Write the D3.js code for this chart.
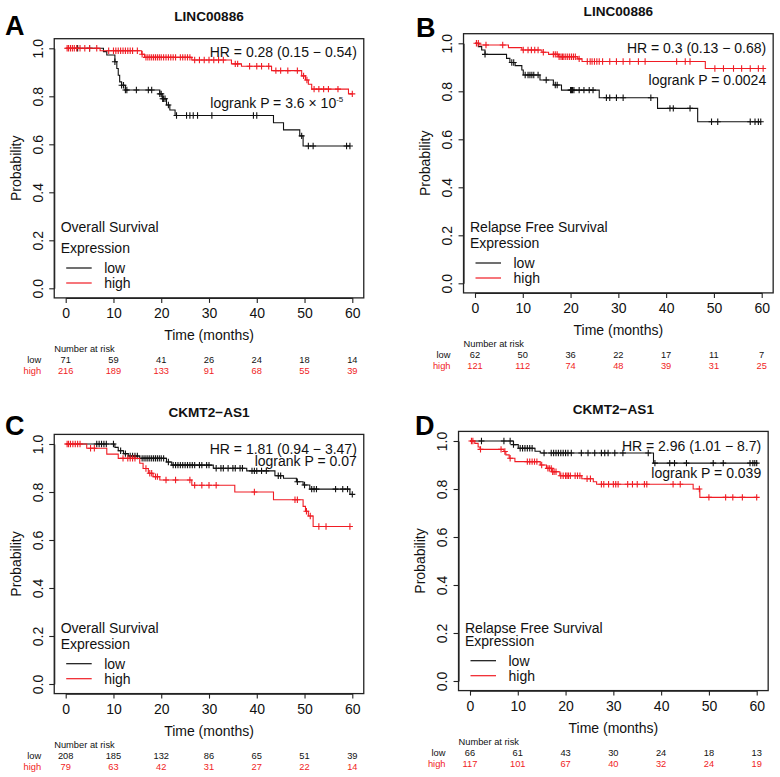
<!DOCTYPE html>
<html><head><meta charset="utf-8">
<script src="https://cdn.jsdelivr.net/npm/d3@7"></script>
<style>
html,body{margin:0;padding:0;background:#fff;}
svg{display:block;font-family:"Liberation Sans",Arial,sans-serif;}
</style></head>
<body>
<svg id="chart" width="780" height="777"></svg>
<script>
// ---------- data ----------
const riskTimes = [0, 10, 20, 30, 40, 50, 60];
const xTicks = [0, 10, 20, 30, 40, 50, 60];
const yTicks = [0, 0.2, 0.4, 0.6, 0.8, 1.0];
const groupNames = ["low", "high"];

// Panel A: LINC00886, Overall Survival
const aLowTimes = [0, 7.9, 8.6, 10.3, 10.7, 11.0, 11.3, 11.7, 12.5, 19.7, 20.2, 21.1, 21.8, 22.9, 43.5, 45.6, 49.0, 49.7];
const aLowSurv  = [1, 0.986, 0.972, 0.944, 0.916, 0.888, 0.86, 0.846, 0.826, 0.81, 0.79, 0.764, 0.743, 0.72, 0.69, 0.66, 0.635, 0.593];
const aLowCens  = [2.5, 5, 10.3, 11.7, 12.1, 12.5, 12.8, 14.8, 17.3, 18, 19.7, 20.0, 20.3, 20.5, 20.8, 21.5, 23.2, 25.3, 26, 26.7, 27.6, 30.6, 39.3, 40, 49.4, 50.8, 51.8, 58.8, 59.5];
const aHighTimes = [0, 7.2, 15.9, 16.5, 26.4, 34.7, 36.8, 43.1, 49.4, 50.2, 50.8, 51.5, 59.2];
const aHighSurv  = [1, 0.99, 0.975, 0.962, 0.951, 0.935, 0.925, 0.907, 0.885, 0.868, 0.85, 0.83, 0.81];
const aHighCens  = [0.3, 0.6, 1.0, 1.4, 1.8, 2.3, 3.0, 4.0, 5.0, 6.5, 9, 10, 10.5, 11, 11.5, 12, 12.5, 13, 13.5, 14, 15, 16, 16.8, 17.2, 17.6, 18, 18.4, 18.8, 19.2, 19.6, 20, 20.5, 21, 21.5, 22, 22.5, 23, 24, 24.5, 25, 25.5, 26, 27, 28, 29, 30, 31, 32, 33, 35.5, 36, 38.5, 40, 41, 42.5, 44, 45, 46.5, 48.5, 49.8, 50.5, 52, 53, 54, 55, 57, 60];
const aLowRisk  = [71, 59, 41, 26, 24, 18, 14];
const aHighRisk = [216, 189, 133, 91, 68, 55, 39];

// Panel B: LINC00886, Relapse Free Survival
const bLowTimes = [0, 0.7, 1.4, 2.1, 6.6, 7.3, 8.4, 9.8, 10.1, 13.6, 16.4, 18.1, 26.0, 38.2, 46.6];
const bLowSurv  = [1, 0.986, 0.972, 0.954, 0.937, 0.92, 0.907, 0.889, 0.868, 0.847, 0.826, 0.805, 0.773, 0.729, 0.673];
const bLowCens  = [2.1, 7.7, 8.1, 10.5, 11.1, 11.5, 11.9, 12.3, 13.2, 14.9, 16.8, 17.2, 20.0, 20.2, 20.4, 20.7, 21.8, 22.8, 23.9, 24.7, 27.5, 28.2, 29.6, 31.0, 36.8, 40.8, 41.5, 45.0, 49.5, 50.8, 57.6, 58.6, 59.3, 59.8];
const bHighTimes = [0, 1.0, 7.0, 9.8, 14.0, 15.4, 17.5, 21.5, 22.4, 48.2];
const bHighSurv  = [1, 0.993, 0.982, 0.972, 0.963, 0.954, 0.944, 0.935, 0.924, 0.895];
const bHighCens  = [0.3, 0.7, 2.3, 5.8, 10.1, 11.1, 11.8, 12.5, 13.2, 14.3, 16.4, 16.8, 17.2, 17.6, 18.0, 18.3, 18.6, 19.0, 19.4, 19.8, 20.2, 20.6, 21.0, 21.8, 23.5, 24.1, 24.5, 25.0, 25.5, 26.0, 26.7, 28.2, 29.6, 31.0, 32.4, 34.2, 35.6, 42.2, 44.0, 45.0, 50.2, 52.0, 54.1, 55.8, 57.6, 59.3, 60.3];
const bLowRisk  = [62, 50, 36, 22, 17, 11, 7];
const bHighRisk = [121, 112, 74, 48, 39, 31, 25];

// Panel C: CKMT2-AS1, Overall Survival
const cLowTimes = [0, 10.3, 11.0, 12.1, 13.1, 15.5, 21.1, 22.2, 30.9, 37.9, 43.8, 45.6, 48.3, 49.7, 51.1, 59.5];
const cLowSurv  = [1, 0.986, 0.972, 0.96, 0.95, 0.94, 0.925, 0.912, 0.899, 0.888, 0.868, 0.857, 0.843, 0.829, 0.812, 0.79];
const cLowCens  = [6.5, 7.0, 7.5, 8.0, 8.5, 10.0, 11.5, 12.5, 13.5, 14.0, 14.5, 15.0, 16.0, 16.4, 16.8, 17.2, 17.6, 18.0, 18.4, 18.8, 19.2, 19.6, 20.0, 20.5, 21.5, 22.5, 23.0, 23.5, 24.0, 24.5, 25.0, 25.5, 26.0, 26.5, 27.0, 28.0, 28.5, 29.5, 30.0, 31.5, 32.5, 33.0, 34.0, 35.0, 35.5, 36.5, 37.0, 39.0, 39.5, 40.0, 41.0, 42.0, 44.5, 45.0, 48.5, 50.0, 51.5, 52.0, 52.5, 56.5, 58.0, 59.0, 60.0];
const cHighTimes = [0, 4.4, 8.6, 11.0, 15.5, 16.2, 17.3, 18.3, 19.7, 26.4, 35.4, 43.5, 49.7, 50.2, 50.8, 51.8];
const cHighSurv  = [1, 0.982, 0.958, 0.94, 0.92, 0.898, 0.878, 0.864, 0.85, 0.828, 0.80, 0.768, 0.74, 0.72, 0.70, 0.656];
const cHighCens  = [0.3, 0.6, 1.0, 1.5, 2.0, 2.5, 3.0, 5.2, 6.0, 12.0, 13.0, 13.5, 14.0, 14.5, 16.8, 17.6, 18.0, 18.8, 19.2, 21.0, 23.0, 26.0, 27.0, 28.5, 30.0, 31.5, 39.5, 48.0, 48.5, 50.4, 51.2, 53.0, 54.5, 59.5];
const cLowRisk  = [208, 185, 132, 86, 65, 51, 39];
const cHighRisk = [79, 63, 42, 31, 27, 22, 14];

// Panel D: CKMT2-AS1, Relapse Free Survival
const dLowTimes = [0, 9.1, 10.1, 13.6, 14.7, 38.4];
const dLowSurv  = [1, 0.985, 0.97, 0.957, 0.95, 0.908];
const dLowCens  = [2.4, 7.1, 8.4, 9.1, 10.5, 11.0, 11.5, 12.0, 12.5, 13.0, 15.5, 17.0, 17.5, 18.0, 18.5, 19.0, 19.5, 20.0, 20.5, 21.2, 23.3, 24.7, 26.1, 27.5, 28.2, 28.9, 30.3, 32.0, 37.3, 38.7, 41.8, 42.8, 45.3, 50.9, 53.0, 58.6, 59.2, 59.6, 60.0];
const dHighTimes = [0, 1.0, 1.7, 2.1, 7.1, 7.5, 8.2, 9.4, 14.7, 16.0, 17.1, 18.8, 23.4, 25.8, 26.5, 46.7, 48.1];
const dHighSurv  = [1, 0.99, 0.975, 0.965, 0.956, 0.942, 0.928, 0.914, 0.9, 0.886, 0.872, 0.855, 0.843, 0.83, 0.82, 0.8, 0.765];
const dHighCens  = [0.3, 0.6, 2.2, 6.5, 7.3, 8.4, 12.0, 12.5, 13.0, 13.5, 14.0, 15.0, 16.3, 16.6, 17.0, 17.3, 17.6, 18.0, 19.0, 19.5, 20.0, 20.3, 20.6, 21.0, 22.0, 22.5, 23.0, 24.5, 25.2, 27.5, 28.0, 29.0, 30.0, 30.5, 31.0, 33.0, 34.0, 35.0, 36.5, 37.0, 42.5, 44.0, 48.0, 50.0, 53.5, 55.0, 57.0, 60.0];
const dLowRisk  = [66, 61, 43, 30, 24, 18, 13];
const dHighRisk = [117, 101, 67, 40, 32, 24, 19];

const panelLetters = ["A", "B", "C", "D"];
const panelGenes = ["LINC00886", "LINC00886", "CKMT2\u2212AS1", "CKMT2\u2212AS1"];
const panelEndpoints = ["Overall Survival", "Relapse Free Survival", "Overall Survival", "Relapse Free Survival"];
const panelHR = ["HR = 0.28 (0.15 \u2212 0.54)", "HR = 0.3 (0.13 \u2212 0.68)", "HR = 1.81 (0.94 \u2212 3.47)", "HR = 2.96 (1.01 \u2212 8.7)"];
const panelP = [["logrank P = 3.6 \u00d7 10", "-5"], ["logrank P = 0.0024", ""], ["logrank P = 0.07", ""], ["logrank P = 0.039", ""]];

// ---------- layout ----------
const layout = [
  {x0: 65.7, x60: 352.3, y1: 48.3, y0: 288.3, letter: [5, 35],  hrDy: 8.4,  pDy: 60,   pEnd: -9,  legTitleDy: -56.6},
  {x0: 475,  x60: 761.7, y1: 43.3, y0: 283.3, letter: [416, 37], hrDy: 9.4, pDy: 41.7, pEnd: 4.5, legTitleDy: -51.6},
  {x0: 65.7, x60: 352.3, y1: 444,  y0: 684,   letter: [5, 435],  hrDy: 10,  pDy: 22,   pEnd: 4.5, legTitleDy: -50.7},
  {x0: 470,  x60: 756.7, y1: 441,  y0: 681,   letter: [415, 435], hrDy: 10, pDy: 37.3, pEnd: 4.5, legTitleDy: -48.3}
];

const curves = [
  [{t: aLowTimes, s: aLowSurv, c: aLowCens}, {t: aHighTimes, s: aHighSurv, c: aHighCens}],
  [{t: bLowTimes, s: bLowSurv, c: bLowCens}, {t: bHighTimes, s: bHighSurv, c: bHighCens}],
  [{t: cLowTimes, s: cLowSurv, c: cLowCens}, {t: cHighTimes, s: cHighSurv, c: cHighCens}],
  [{t: dLowTimes, s: dLowSurv, c: dLowCens}, {t: dHighTimes, s: dHighSurv, c: dHighCens}]
];
const risks = [[aLowRisk, aHighRisk], [bLowRisk, bHighRisk], [cLowRisk, cHighRisk], [dLowRisk, dHighRisk]];

const colors = ["#111111", "#f01c24"];
const svg = d3.select("#chart");

layout.forEach((L, i) => {
  const g = svg.append("g");
  const x = d3.scaleLinear().domain([0, 60]).range([L.x0, L.x60]);
  const y = d3.scaleLinear().domain([0, 1]).range([L.y0, L.y1]);
  const bl = x(-2.4), br = x(62.4), bt = y(1.04), bb = y(-0.04);

  // panel letter + title
  g.append("text").attr("x", L.letter[0]).attr("y", L.letter[1])
    .attr("font-size", 27).attr("font-weight", "bold").attr("fill", "#000").text(panelLetters[i]);
  g.append("text").attr("x", (L.x0 + L.x60) / 2).attr("y", L.y1 - 27)
    .attr("text-anchor", "middle").attr("font-size", 13.6).attr("font-weight", "bold").attr("fill", "#111").text(panelGenes[i]);

  // curves
  const line = d3.line().x(d => x(d[0])).y(d => y(d[1])).curve(d3.curveStepAfter);
  curves[i].forEach((cv, k) => {
    const pts = cv.t.map((t, j) => [t, cv.s[j]]);
    const endT = Math.max(d3.max(cv.c), cv.t[cv.t.length - 1]);
    pts.push([endT, cv.s[cv.s.length - 1]]);
    g.append("path").attr("d", line(pts)).attr("fill", "none")
      .attr("stroke", colors[k]).attr("stroke-width", 1.1);
    const bis = d3.bisector(d => d).right;
    const sAt = t => cv.s[Math.max(0, bis(cv.t, t) - 1)];
    g.append("g").selectAll("path").data(cv.c).join("path")
      .attr("d", t => {
        const px = x(t), py = y(sAt(t));
        return `M${px - 3},${py}H${px + 3}M${px},${py - 3.2}V${py + 3.2}`;
      })
      .attr("stroke", colors[k]).attr("stroke-width", 1.1).attr("fill", "none");
  });

  // box
  g.append("rect").attr("x", bl).attr("y", bt).attr("width", br - bl).attr("height", bb - bt)
    .attr("fill", "none").attr("stroke", "#222").attr("stroke-width", 1.3);

  // axes
  const xa = g.append("g").attr("transform", `translate(0,${bb})`)
    .call(d3.axisBottom(x).tickValues(xTicks).tickSize(5).tickSizeOuter(0).tickFormat(d3.format("d")));
  xa.selectAll("text").attr("y", L.y0 + 30 - bb).attr("dy", 0).attr("font-size", 14)
    .attr("fill", "#111").attr("font-family", "Liberation Sans, Arial, sans-serif");
  const ya = g.append("g").attr("transform", `translate(${bl},0)`)
    .call(d3.axisLeft(y).tickValues(yTicks).tickSize(5).tickSizeOuter(0).tickFormat(d3.format(".1f")));
  ya.selectAll("text").attr("x", 0).attr("dy", 0).attr("text-anchor", "middle")
    .attr("transform", "translate(-11.6,0) rotate(-90)").attr("font-size", 14)
    .attr("fill", "#111").attr("font-family", "Liberation Sans, Arial, sans-serif");
  [xa, ya].forEach(a => { a.selectAll("path,line").attr("stroke", "#222").attr("stroke-width", 1.1); });

  g.append("text").attr("transform", `translate(${bl - 33.5},${(L.y0 + L.y1) / 2}) rotate(-90)`)
    .attr("text-anchor", "middle").attr("font-size", 14).attr("fill", "#111").text("Probability");
  g.append("text").attr("x", (L.x0 + L.x60) / 2).attr("y", L.y0 + 52)
    .attr("text-anchor", "middle").attr("font-size", 14).attr("fill", "#111").text("Time (months)");

  // HR and p
  g.append("text").attr("x", L.x60 + 4.5).attr("y", L.y1 + L.hrDy).attr("text-anchor", "end")
    .attr("font-size", 14).attr("fill", "#111").text(panelHR[i]);
  const pt = g.append("text").attr("x", L.x60 + L.pEnd).attr("y", L.y1 + L.pDy).attr("text-anchor", "end")
    .attr("font-size", 14).attr("fill", "#111");
  pt.append("tspan").text(panelP[i][0]);
  if (panelP[i][1]) pt.append("tspan").attr("font-size", 8).attr("dy", -6).text(panelP[i][1]);

  // legend
  g.append("text").attr("x", L.x0 - 5).attr("y", L.y0 + L.legTitleDy).attr("font-size", 14)
    .attr("fill", "#111").text(panelEndpoints[i]);
  g.append("text").attr("x", L.x0 - 5).attr("y", L.y0 - 35.5).attr("font-size", 14)
    .attr("fill", "#111").text("Expression");
  groupNames.forEach((nm, k) => {
    const ly = L.y0 - 20.3 + k * 15;
    g.append("line").attr("x1", L.x0 + 0.5).attr("x2", L.x0 + 26).attr("y1", ly).attr("y2", ly)
      .attr("stroke", colors[k]).attr("stroke-width", 1.2);
    g.append("text").attr("x", L.x0 + 38.5).attr("y", L.y0 - 15 + k * 14.5).attr("font-size", 14)
      .attr("fill", "#111").text(nm);
  });

  // risk table
  g.append("text").attr("x", bl).attr("y", L.y0 + 63.5).attr("font-size", 9.3)
    .attr("fill", "#111").text("Number at risk");
  groupNames.forEach((nm, k) => {
    const ry = L.y0 + 74.5 + k * 11;
    g.append("text").attr("x", L.x0 - 24.5).attr("y", ry).attr("text-anchor", "end")
      .attr("font-size", 9.3).attr("fill", colors[k]).text(nm);
    g.append("g").selectAll("text").data(riskTimes).join("text")
      .attr("x", t => x(t)).attr("y", ry).attr("text-anchor", "middle")
      .attr("font-size", 9.3).attr("fill", colors[k]).text((t, j) => risks[i][k][j]);
  });
});
</script>
</body></html>
